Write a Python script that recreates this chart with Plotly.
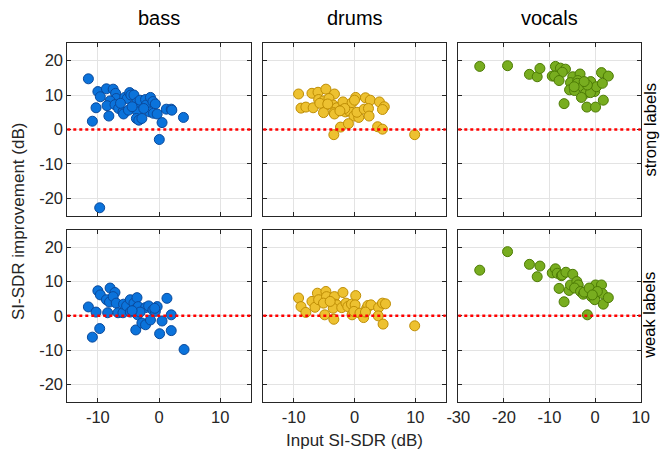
import plotly.graph_objects as go

# ---------------- data ----------------
bass_strong_x = [-11.55, -10.0, -9.6, -10.3, -10.9, -8.6, -7.5, -7.1, -7.0, -8.0, -8.5, -8.2, -7.2, -6.6,
                 -5.9, -5.8, -5.6, -5.2, -4.8, -4.6, -4.1, -5.0, -3.9, -3.6, -3.5, -3.7, -3.3, -2.8, -3.1,
                 -2.2, -2.1, -1.4, -1.0, -0.6, -1.5, -0.9, -0.3, 0.5, 0.05, 1.2, 2.0, 2.1, 4.0, -9.7,
                 -6.3, -4.4, -2.5]
bass_strong_y = [14.7, 11.0, 9.5, 6.3, 2.4, 11.8, 11.7, 10.5, 9.0, 8.3, 6.9, 3.9, 7.2, 6.1,
                 5.1, 4.5, 9.3, 9.0, 10.7, 10.0, 10.0, 5.6, 6.6, 7.8, 5.1, 3.2, 2.7, 3.2, 8.5,
                 8.7, 7.1, 9.3, 8.1, 7.4, 5.1, 4.7, 4.5, 2.0, -2.9, 5.9, 5.9, 5.6, 3.5, -22.7,
                 7.6, 6.6, 6.1]

drums_strong_x = [-9.2, -8.8, -8.0, -7.0, -6.0, -4.7, -3.3, -6.8, -5.9, -5.1, -4.2, -4.8, -5.1, -3.5,
                  -2.9, -3.4, -3.3, -1.9, -2.2, -1.5, -0.9, -0.4, 0.2, 0.0, -0.1, 0.7, 0.4, 1.8, 2.6,
                  1.6, 2.3, 2.4, 4.1, 4.9, 4.6, 3.8, 4.6, -3.4, -2.3, -1.0, 9.9, -5.7, -4.4, -1.6, -2.4]
drums_strong_y = [10.3, 6.2, 6.5, 10.5, 10.8, 11.7, 10.3, 6.3, 8.7, 8.3, 9.0, 6.8, 4.9, 7.1,
                  6.3, 4.9, 4.5, 8.0, 5.6, 5.1, 5.4, 7.8, 9.3, 8.5, 3.9, 3.5, 5.0, 9.2, 8.5,
                  5.9, 6.1, 3.9, 8.0, 6.6, 5.8, 0.8, 0.1, -1.5, 0.7, 1.7, -1.5, 7.6, 7.4, 6.1, 5.4]

vocals_strong_x = [-25.3, -19.2, -14.4, -12.7, -12.1, -9.4, -8.7, -7.6, -6.5, -7.2, -8.9, -7.9, -4.9,
                   -3.3, -5.4, -3.8, -5.6, -4.5, -3.9, -2.8, -2.1, -3.0, -0.96, -0.4, -0.1, -1.0, 0.3,
                   1.4, 2.9, 1.6, 1.8, -6.8, -1.8, 0.1, -1.7, -2.4, -4.6]
vocals_strong_y = [18.3, 18.5, 16.0, 15.3, 17.7, 15.5, 18.3, 17.8, 17.5, 16.6, 15.5, 14.2, 15.3,
                   16.1, 13.6, 14.2, 11.5, 11.3, 13.4, 12.4, 10.5, 9.3, 13.9, 11.9, 11.0, 10.7, 12.4,
                   16.5, 15.5, 13.4, 8.5, 7.5, 6.5, 6.5, 12.9, 13.9, 12.4]

bass_weak_x = [-11.55, -10.9, -10.3, -10.0, -9.6, -9.7, -8.6, -8.1, -8.0, -7.2, -7.5, -7.0, -8.4, -6.7,
               -5.9, -5.8, -5.3, -4.7, -4.7, -4.1, -3.7, -3.6, -3.4, -3.5, -3.8, -2.8, -2.2, -2.2,
               -1.7, -1.4, -1.0, -0.6, -0.3, -0.7, 0.1, 0.5, 1.3, 2.0, 2.0, 4.1, -3.1, -4.4]
bass_weak_y = [2.6, -6.2, 1.1, 7.3, 6.1, -3.7, 4.7, 4.0, 8.1, 6.8, 5.6, 3.7, 0.9, 0.9,
               0.9, 3.4, 2.9, 4.7, 1.1, 3.7, 2.2, 5.3, 2.7, 0.3, -4.1, -2.1, -2.6, 2.4,
               2.9, -1.2, 1.7, 1.3, 2.7, 2.2, -5.2, -1.5, 5.1, 0.3, -4.3, -9.8, 1.1, 1.5]

drums_weak_x = [-9.2, -8.8, -8.0, -7.0, -6.5, -6.1, -5.9, -4.7, -4.6, -5.1, -4.9, -3.4, -3.3, -3.2,
                -2.9, -3.5, -1.9, -2.1, -1.4, -1.1, -0.4, -0.5, 0.2, 0.1, -0.1, 0.9, 1.5, 2.0, 2.2,
                2.7, 3.96, 4.6, 5.1, 3.9, 4.7, 9.9, 1.8, -4.0]
drums_weak_y = [5.2, 2.7, 1.0, 4.2, 2.5, 6.6, 4.7, 7.1, 5.6, 3.7, 0.3, -1.0, 5.6, 3.4,
                3.2, 2.2, 6.8, 2.4, 3.7, 2.7, 0.3, 3.4, 5.9, 3.2, 1.3, 0.8, -0.5, 2.2, 3.0,
                3.2, 2.4, 3.7, 3.5, 0.0, -2.4, -2.9, 1.1, 4.2]

vocals_weak_x = [-25.3, -19.2, -14.4, -12.1, -12.7, -9.4, -8.7, -8.3, -7.4, -7.2, -6.4, -4.9, -7.9,
                 -6.8, -5.7, -5.4, -4.0, -3.7, -4.5, -3.2, -2.6, -1.1, -0.4, -0.8, -0.07, 0.1, 1.4,
                 1.6, 1.8, 2.9, -1.7, -2.4, -1.3, 0.5, -0.6]
vocals_weak_y = [13.3, 18.7, 15.0, 14.5, 11.4, 12.5, 13.7, 12.4, 11.7, 11.9, 12.7, 12.1, 8.0,
                 4.1, 7.4, 9.0, 10.0, 9.0, 8.1, 7.1, 6.3, 7.3, 7.6, 5.6, 4.7, 9.0, 9.0,
                 6.5, 3.4, 5.3, 0.3, 6.9, 8.1, 7.1, 6.1]

sources = ["bass", "drums", "vocals"]
row_labels = ["strong labels", "weak labels"]
x_ranges = {"bass": [-15, 15], "drums": [-15, 15], "vocals": [-30, 10]}
x_ticks = {"bass": [-10, 0, 10], "drums": [-10, 0, 10], "vocals": [-30, -20, -10, 0, 10]}
y_ticks = [-20, -10, 0, 10, 20]

data = {
    ("bass", 0): (bass_strong_x, bass_strong_y),
    ("drums", 0): (drums_strong_x, drums_strong_y),
    ("vocals", 0): (vocals_strong_x, vocals_strong_y),
    ("bass", 1): (bass_weak_x, bass_weak_y),
    ("drums", 1): (drums_weak_x, drums_weak_y),
    ("vocals", 1): (vocals_weak_x, vocals_weak_y),
}
fill = {"bass": "#0B73DB", "drums": "#EDC130", "vocals": "#78AD1F"}
edge = {"bass": "#0A4A9C", "drums": "#BF8E05", "vocals": "#4D7B05"}


def tick_text(vals):
    # plain hyphen-minus, as in the reference
    return [str(v) for v in vals]


# ---------------- layout geometry ----------------
# the page body has an 8px default margin, so the figure is 8px smaller and shifted
OFF = 8
W, H = 668 - OFF, 456 - OFF
col_px = [(67.3 - OFF, 250.7 - OFF), (263.3 - OFF, 445.7 - OFF), (458.3 - OFF, 640.7 - OFF)]
row_px = [(43.3 - OFF, 215.7 - OFF), (230.0 - OFF, 401.7 - OFF)]
FONT = "Liberation Sans, Arial, Helvetica, sans-serif"
TICK = dict(size=16.5, color="#262626", family=FONT)

fig = go.Figure()
layout = dict(width=W, height=H, margin=dict(l=0, r=0, t=0, b=0, autoexpand=False),
              paper_bgcolor="white", plot_bgcolor="white", showlegend=False,
              font=dict(family=FONT, size=16, color="#262626"))

idx = 0
for r in range(2):
    for c, src in enumerate(sources):
        idx += 1
        xa = "xaxis" if idx == 1 else f"xaxis{idx}"
        ya = "yaxis" if idx == 1 else f"yaxis{idx}"
        xr = "x" if idx == 1 else f"x{idx}"
        yr = "y" if idx == 1 else f"y{idx}"
        x0, x1 = col_px[c]
        t0, t1 = row_px[r]
        layout[xa] = dict(domain=[x0 / W, x1 / W], anchor=yr, range=x_ranges[src],
                          tickmode="array", tickvals=x_ticks[src], ticktext=tick_text(x_ticks[src]),
                          showticklabels=(r == 1), automargin=False,
                          ticks="inside", ticklen=4, tickcolor="#262626", mirror="ticks",
                          showline=True, linecolor="#262626", linewidth=1,
                          showgrid=True, gridcolor="#E3E3E3", gridwidth=1, zeroline=False,
                          tickfont=TICK)
        layout[ya] = dict(domain=[1 - t1 / H, 1 - t0 / H], anchor=xr, range=[-25, 25],
                          tickmode="array", tickvals=y_ticks, ticktext=tick_text(y_ticks),
                          showticklabels=(c == 0), automargin=False,
                          ticks="inside", ticklen=4, tickcolor="#262626", mirror="ticks",
                          showline=True, linecolor="#262626", linewidth=1,
                          showgrid=True, gridcolor="#E3E3E3", gridwidth=1, zeroline=False,
                          tickfont=TICK)
        xs, ys = data[(src, r)]
        fig.add_trace(go.Scatter(x=xs, y=ys, mode="markers", xaxis=xr, yaxis=yr,
                                 marker=dict(size=10, color=fill[src],
                                             line=dict(color=edge[src], width=1))))
        # red dotted reference line at y = 0 spanning the axes
        fig.add_shape(type="line", xref=f"{xr} domain", yref=yr, x0=0, x1=1, y0=0, y1=0,
                      line=dict(color="#FF0000", width=2.5, dash="dot"), layer="above")

fig.update_layout(**layout)

C = dict(xref="paper", yref="paper", showarrow=False, xanchor="center", yanchor="middle")
ann = []
for c, src in enumerate(sources):
    ann.append(dict(text=src, x=(col_px[c][0] + col_px[c][1]) / 2 / W, y=1 - (18 - OFF) / H,
                    font=dict(size=20, color="#000000", family=FONT), **C))
for r, lab in enumerate(row_labels):
    ann.append(dict(text=lab, x=(649 - OFF) / W, y=1 - (row_px[r][0] + row_px[r][1]) / 2 / H,
                    textangle=-90, font=dict(size=16.5, color="#000000", family=FONT), **C))
ann.append(dict(text="SI-SDR improvement (dB)", x=(18 - OFF) / W, y=1 - (222 - OFF) / H,
                textangle=-90, font=dict(size=17, color="#262626", family=FONT), **C))
ann.append(dict(text="Input SI-SDR (dB)", x=(354 - OFF) / W, y=1 - (440 - OFF) / H,
                font=dict(size=17, color="#262626", family=FONT), **C))
fig.update_layout(annotations=ann)

fig.write_html("out.html")
